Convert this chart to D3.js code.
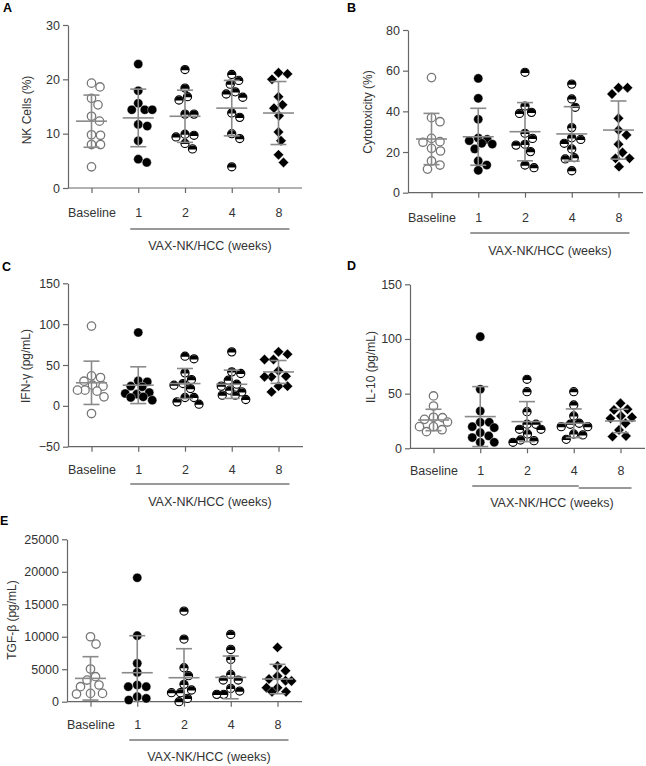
<!DOCTYPE html>
<html><head><meta charset="utf-8">
<script src="https://cdn.jsdelivr.net/npm/d3@7"></script>
<style>body{margin:0;background:#fff;} svg{display:block;font-family:"Liberation Sans",Arial,sans-serif;}</style>
</head><body><svg id="c" width="646" height="766"></svg>
<script>
// ---------- data ----------
const categories = ["Baseline", "1", "2", "4", "8"];
const groupLabel = "VAX-NK/HCC (weeks)";
const markerTypes = ["open", "filled", "half", "half", "diamond"];

const nkCells = [
  [19.3, 18.6, 16.5, 15.3, 13.2, 12.3, 9.8, 9.7, 8.0, 8.0, 3.9],
  [22.8, 17.9, 15.6, 14.4, 14.4, 14.4, 11.7, 11.4, 8.7, 5.3, 4.7],
  [21.8, 18.4, 16.8, 16.2, 13.6, 13.6, 9.9, 9.7, 9.4, 8.2, 7.2],
  [20.9, 19.8, 19.1, 17.7, 17.3, 16.7, 13.8, 13.0, 10.0, 9.1, 3.9],
  [21.2, 21.0, 20.0, 16.8, 15.3, 14.7, 13.3, 10.3, 8.7, 6.1, 4.7]
];
const nkMean = [12.3, 12.9, 13.2, 14.7, 13.8];
const nkSD = [4.8, 5.3, 4.8, 5.1, 5.8];
const nkTicks = [0, 10, 20, 30];

const cytotox = [
  [56.6, 36.9, 34.9, 26.7, 25.1, 24.8, 21.8, 20.5, 15.6, 13.6, 11.6],
  [56.2, 46.4, 36.1, 26.9, 26.2, 25.6, 24.3, 23.9, 21.5, 15.6, 13.6, 11.0],
  [59.2, 42.6, 39.5, 39.0, 29.2, 26.7, 23.8, 23.4, 20.2, 13.6, 12.3],
  [53.4, 46.1, 42.0, 32.0, 27.0, 26.2, 24.3, 21.5, 17.2, 16.6, 10.8],
  [51.6, 51.6, 48.5, 36.6, 30.8, 28.4, 23.8, 19.8, 16.9, 16.9, 12.8]
];
const cytoMean = [26.4, 27.5, 30.0, 28.9, 30.8];
const cytoSD = [12.6, 14.0, 14.3, 13.4, 14.3];
const cytoTicks = [0, 20, 40, 60, 80];

const ifng = [
  [97.6, 36.7, 34.7, 30.2, 25.3, 24.1, 19.2, 19.2, 18.0, 11.0, -9.4],
  [89.8, 30.6, 29.4, 24.1, 23.3, 16.3, 15.1, 14.3, 11.0, 10.2, 6.9],
  [60.8, 57.6, 40.4, 32.2, 27.3, 25.3, 21.2, 10.2, 10.2, 4.9, 2.0],
  [66.1, 41.6, 39.6, 31.4, 26.5, 24.1, 19.2, 17.1, 13.1, 13.1, 7.8],
  [66.1, 63.3, 56.7, 56.7, 42.9, 36.3, 35.5, 35.5, 24.1, 24.1, 17.1]
];
const ifngMean = [28.2, 25.3, 27.3, 26.4, 41.5];
const ifngSD = [26.5, 22.5, 18.4, 17.3, 14.0];
const ifngTicks = [-50, 0, 50, 100, 150];

const il10 = [
  [47.9, 38.7, 28.4, 28.0, 26.5, 24.0, 19.8, 19.8, 17.0, 15.2],
  [102.1, 54.0, 34.1, 23.8, 23.8, 19.8, 18.9, 14.3, 11.3, 9.8, 5.5, 5.5],
  [63.1, 51.8, 33.5, 22.0, 22.0, 17.4, 17.4, 13.1, 7.6, 7.0, 5.5],
  [51.8, 39.6, 29.6, 22.9, 22.0, 19.8, 19.8, 13.1, 12.2, 8.2],
  [41.2, 35.7, 35.1, 29.6, 28.4, 27.4, 22.9, 16.8, 11.3, 10.7]
];
const il10Mean = [25.9, 29.0, 24.4, 22.9, 25.0];
const il10SD = [9.8, 27.4, 18.3, 13.1, 10.7];
const il10Ticks = [0, 50, 100, 150];

const tgfb = [
  [10000, 8870, 5030, 3850, 3330, 2570, 2310, 1280, 1280, 1180],
  [19080, 10160, 5900, 4510, 2570, 2310, 2310, 770, 510, 260],
  [13950, 9640, 5230, 4000, 2670, 1800, 1390, 1390, 510, 0],
  [10360, 8050, 6510, 4200, 3330, 3330, 2050, 1640, 1130, 1130],
  [8360, 5490, 4770, 3950, 3490, 3230, 3180, 2150, 2150, 1540, 1540]
];
const tgfbMean = [3590, 4460, 3690, 3740, 3490];
const tgfbSD = [3340, 5700, 4470, 3290, 2260];
const tgfbTicks = [0, 5000, 10000, 15000, 20000, 25000];

// ---------- layout ----------
const panels = [
  {letter:"A", lx:3, ly:12, ax:68, y0:188, y1:25, domain:[0,30], ticks:nkTicks, vals:nkCells, mean:nkMean, sd:nkSD,
   title:"NK Cells (%)", tx:27, ty:110, tickLab:213, lineY:229, vaxY:246, axEnd:302},
  {letter:"B", lx:347, ly:12, ax:408, y0:192.7, y1:30, domain:[0,80], ticks:cytoTicks, vals:cytotox, mean:cytoMean, sd:cytoSD,
   title:"Cytotoxicity (%)", tx:368, ty:112, tickLab:218, lineY:233, vaxY:251, axEnd:643},
  {letter:"C", lx:2, ly:271, ax:68, y0:446.7, y1:283.3, domain:[-50,150], ticks:ifngTicks, vals:ifng, mean:ifngMean, sd:ifngSD,
   title:"IFN-γ (pg/mL)", tx:26, ty:366, tickLab:470, lineY:484, vaxY:502, axEnd:303},
  {letter:"D", lx:347, ly:270, ax:410, y0:448.3, y1:284.3, domain:[0,150], ticks:il10Ticks, vals:il10, mean:il10Mean, sd:il10SD,
   title:"IL-10 (pg/mL)", tx:371, ty:367, tickLab:471, lineY:486, vaxY:503, axEnd:645, step:true},
  {letter:"E", lx:0, ly:525, ax:67, y0:701.7, y1:539.3, domain:[0,25000], ticks:tgfbTicks, vals:tgfb, mean:tgfbMean, sd:tgfbSD,
   title:"TGF-β (pg/mL)", tx:12, ty:620, tickLab:725, lineY:740, vaxY:757, axEnd:302}
];

const svg = d3.select("#c");
const R = 4.6;
const axisColor = "#666";
const textColor = "#333";
const maxSpread = 14;

// compact swarm: spread points sideways within a limited width, allowing slight overlap when crowded
function swarm(vals, y, r){
  const d = 2*r - 0.2;
  const order = vals.map((v,i)=>i).sort((a,b)=>vals[b]-vals[a]);
  const placed = [];
  const out = new Array(vals.length);
  const cands = [0];
  for (let k=1; k*0.5 <= maxSpread; k++){ cands.push(k*0.5, -k*0.5); }
  for (const i of order){
    const py = y(vals[i]);
    let best = 0, bestScore = -Infinity, found = false;
    for (const o of cands){
      let minD = Infinity;
      for (const p of placed){
        const dx = o - p.x, dy = py - p.y;
        minD = Math.min(minD, Math.sqrt(dx*dx + dy*dy));
      }
      if (minD >= d){ best = o; found = true; break; }
      if (minD > bestScore + 0.01){ bestScore = minD; best = o; }
    }
    placed.push({x:best, y:py});
    out[i] = best;
  }
  return out;
}

function drawMarker(g, type, cx, cy){
  if (type === "open"){
    g.append("circle").attr("cx",cx).attr("cy",cy).attr("r",R-0.4)
      .attr("fill","#fff").attr("stroke","#777").attr("stroke-width",1.3);
  } else if (type === "filled"){
    g.append("circle").attr("cx",cx).attr("cy",cy).attr("r",R).attr("fill","#000")
      .attr("stroke","#fff").attr("stroke-width",0.4);
  } else if (type === "half"){
    const r = R-0.5;
    g.append("circle").attr("cx",cx).attr("cy",cy).attr("r",r)
      .attr("fill","#fff").attr("stroke","#000").attr("stroke-width",1.1);
    g.append("path").attr("transform",`translate(${cx},${cy})`)
      .attr("d",`M${-r},0.6 A${r},${r} 0 0 1 ${r},0.6 Z`).attr("fill","#000");
  } else {
    const s = 5.2;
    g.append("path").attr("transform",`translate(${cx},${cy})`)
      .attr("d",`M0,${-s} L${s},0 L0,${s} L${-s},0 Z`).attr("fill","#000")
      .attr("stroke","#fff").attr("stroke-width",0.4);
  }
}

panels.forEach(p => {
  const g = svg.append("g");
  const y = d3.scaleLinear().domain(p.domain).range([p.y0, p.y1]);
  const x = d3.scalePoint().domain(categories).range([p.ax + 23.5, p.ax + 210.5]);

  g.append("text").attr("x",p.lx).attr("y",p.ly).text(p.letter)
    .attr("font-weight","bold").attr("font-size",12.5).attr("fill","#000");

  const ya = g.append("g").attr("transform",`translate(${p.ax},0)`)
    .call(d3.axisLeft(y).tickValues(p.ticks).tickSize(5).tickSizeOuter(0).tickPadding(3).tickFormat(d3.format("d")));
  ya.select(".domain").attr("stroke",axisColor).attr("stroke-width",1.2);
  ya.selectAll(".tick line").attr("stroke",axisColor).attr("stroke-width",1.2);
  ya.selectAll(".tick text").attr("fill",textColor).attr("font-size",12.5).attr("font-family","Liberation Sans, Arial, sans-serif");

  const xa = g.append("g").attr("transform",`translate(0,${p.y0})`)
    .call(d3.axisBottom(x).tickSize(5).tickSizeOuter(0).tickPadding(p.tickLab - p.y0 - 5 - 4.5));
  xa.select(".domain").attr("d",`M${p.ax},0H${p.axEnd}`).attr("stroke",axisColor).attr("stroke-width",1.2);
  xa.selectAll(".tick line").attr("stroke",axisColor).attr("stroke-width",1.2);
  xa.selectAll(".tick text").attr("fill",textColor).attr("font-size",12.5).attr("font-family","Liberation Sans, Arial, sans-serif");

  g.append("text").attr("transform",`translate(${p.tx},${p.ty}) rotate(-90)`)
    .attr("text-anchor","middle").attr("dominant-baseline","central")
    .attr("font-size",12).attr("fill",textColor).text(p.title);

  const lx0 = x("1") - 8, lx1 = x("8") + 11;
  if (p.step){
    const mid = x("4") + 5;
    g.append("path").attr("d",`M${lx0},${p.lineY}H${mid}M${mid},${p.lineY+2}H${lx1}`)
      .attr("stroke","#777").attr("stroke-width",1.3).attr("fill","none");
  } else {
    g.append("line").attr("x1",lx0).attr("x2",lx1).attr("y1",p.lineY).attr("y2",p.lineY)
      .attr("stroke","#777").attr("stroke-width",1.3);
  }
  g.append("text").attr("x",(lx0+lx1)/2).attr("y",p.vaxY).attr("text-anchor","middle")
    .attr("dominant-baseline","central").attr("font-size",12.5).attr("fill",textColor).text(groupLabel);

  p.vals.forEach((vals, gi) => {
    const offs = swarm(vals, y, R);
    vals.forEach((v, i) => drawMarker(g, markerTypes[gi], x(categories[gi]) + offs[i], y(v)));
  });

  categories.forEach((c, gi) => {
    const cx = x(c);
    const m = p.mean[gi], s = p.sd[gi];
    const lo = Math.max(m - s, p.domain[0]);
    const hi = m + s;
    const eb = g.append("g").attr("stroke","#8a8a8a").attr("stroke-width",1.6).attr("fill","none");
    eb.append("line").attr("x1",cx).attr("x2",cx).attr("y1",y(lo)).attr("y2",y(hi));
    eb.append("line").attr("x1",cx-8).attr("x2",cx+8).attr("y1",y(hi)).attr("y2",y(hi));
    if (m - s > p.domain[0]) eb.append("line").attr("x1",cx-8).attr("x2",cx+8).attr("y1",y(lo)).attr("y2",y(lo));
    eb.append("line").attr("x1",cx-15.5).attr("x2",cx+15.5).attr("y1",y(m)).attr("y2",y(m));
  });
});
</script>
</body></html>
